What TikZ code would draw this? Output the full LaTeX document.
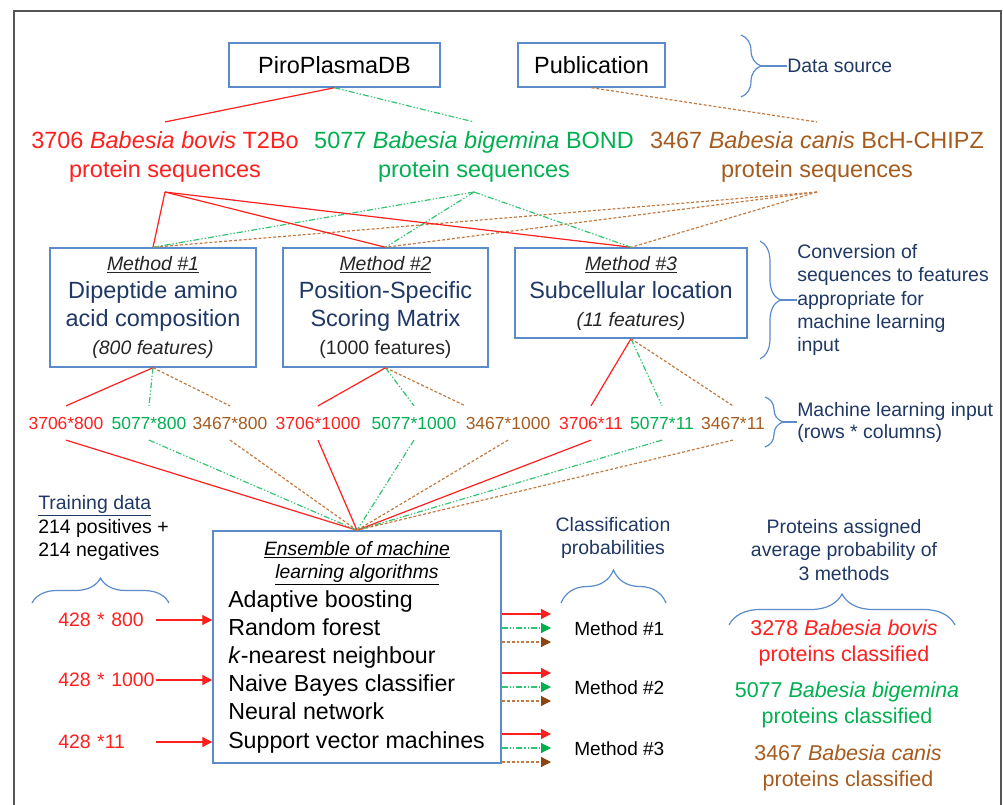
\documentclass[tikz,border=0pt]{standalone}
\usepackage{fontspec}
\setmainfont{Liberation Sans}
\usepackage{tikz}
\usetikzlibrary{arrows.meta,calc,decorations.pathreplacing}

\definecolor{boxblue}{HTML}{5B8BCB}
\definecolor{navy}{HTML}{1F3864}
\definecolor{bovisred}{HTML}{FF1F1F}
\definecolor{bigemgreen}{HTML}{00B050}
\definecolor{bigemline}{HTML}{33C472}
\definecolor{canisbrown}{HTML}{A65B1E}
\definecolor{canisline}{HTML}{C27A40}
\definecolor{headbrown}{HTML}{8B4513}
\definecolor{framegray}{HTML}{555555}

% font sizes (one picture unit is 0.75pt)
\newcommand{\mainsize}{\fontsize{17.6}{21}\selectfont}
\newcommand{\notesize}{\fontsize{14.6}{17.5}\selectfont}
\newcommand{\numsize}{\fontsize{13.1}{16}\selectfont}
\newcommand{\resultsize}{\fontsize{16.1}{19.5}\selectfont}
\newcommand{\methodlabel}[1]{{\notesize\color{black!85}\underline{\textit{#1}}}}

\begin{document}
\begin{tikzpicture}
  [x=0.75pt,y=-0.75pt,
   every node/.style={inner sep=0pt},
   box/.style={draw=boxblue,line width=1.1pt,fill=white},
   method/.style={box,font=\mainsize,text=navy,align=center},
   species/.style={font=\fontsize{17.6}{21.75}\selectfont,align=center,inner ysep=7pt},
   num/.style={font=\numsize,inner ysep=8pt},
   note/.style={font=\notesize,text=navy,align=left,anchor=west},
   result/.style={font=\resultsize,align=center},
   input/.style={font=\notesize,text=bovisred,anchor=west,text width=72.75pt,align=left},
   redline/.style={draw=bovisred,line width=0.9pt},
   greenline/.style={draw=bigemline,line width=0.9pt,
     dash pattern=on 4.5pt off 1.5pt on 1pt off 1.5pt on 1pt off 1.5pt},
   brownline/.style={draw=canisline,line width=0.9pt,dash pattern=on 2.2pt off 1.5pt},
   brace/.style={draw=boxblue,line width=0.9pt,decorate,decoration={brace,amplitude=#1}},
   bracetip/.style={draw=boxblue,line width=0.9pt}]

  \useasboundingbox (0,0) rectangle (1003,805);
  \draw[framegray,line width=1.5pt] (14,805) -- (14,11) -- (1001,11) -- (1001,805);

  % sources
  \node[box,minimum width=158pt,minimum height=33pt,font=\mainsize] (piro) at (334.5,65) {PiroPlasmaDB};
  \node[box,minimum width=110pt,minimum height=33pt,font=\mainsize] (pub) at (591.5,65) {Publication};

  \node[species,text=bovisred] (bovis) at (165,157) {3706 \textit{Babesia bovis} T2Bo\\protein sequences};
  \node[species,text=bigemgreen] (bigemina) at (474,157) {5077 \textit{Babesia bigemina} BOND\\protein sequences};
  \node[species,text=canisbrown] (canis) at (817,157) {3467 \textit{Babesia canis} BcH-CHIPZ\\protein sequences};

  % feature methods
  \node[method,minimum width=154.5pt,minimum height=89.25pt] (m1) at (153,307.5)
    {\methodlabel{Method \#1}\\Dipeptide amino\\acid composition\\{\notesize\color{black!85}\textit{(800 features)}}};
  \node[method,minimum width=153.75pt,minimum height=89.25pt] (m2) at (385.5,307.5)
    {\methodlabel{Method \#2}\\Position-Specific\\Scoring Matrix\\{\notesize\color{black!85}(1000 features)}};
  \node[method,minimum width=174pt,minimum height=67.5pt] (m3) at (631,293)
    {\methodlabel{Method \#3}\\Subcellular location\\{\notesize\color{black!85}\textit{(11 features)}}};

  % input sizes
  \foreach \name/\xpos/\txt/\col in {n1/66/3706*800/bovisred, n2/149/5077*800/bigemgreen,
      n3/230/3467*800/canisbrown, n4/318/3706*1000/bovisred, n5/414/5077*1000/bigemgreen,
      n6/508/3467*1000/canisbrown, n7/591/3706*11/bovisred, n8/662/5077*11/bigemgreen,
      n9/733/3467*11/canisbrown}
    \node[num,text=\col] (\name) at (\xpos,423) {\txt};

  % ensemble
  \node[box,minimum width=216pt,minimum height=174pt] (ens) at (357,647) {};
  \node[font=\fontsize{14.5}{17.25}\selectfont,align=center] (enstitle) at (357,563.5)
    {\underline{\textit{Ensemble of machine}}\\\underline{\textit{learning algorithms}}};
  \node[font=\fontsize{17.4}{21.15}\selectfont,align=left,anchor=west] (algos) at (228,671.5)
    {Adaptive boosting\\Random forest\\\textit{k}-nearest neighbour\\Naive Bayes classifier\\Neural network\\Support vector machines};

  \node[note,text=black,font=\fontsize{14.6}{17.6}\selectfont] (train) at (38,528)
    {\textcolor{navy}{\underline{Training data}}\\214 positives +\\214 negatives};
  \node[input] (in1) at (58,620) {428 * 800};
  \node[input] (in2) at (58,680) {428 * 1000};
  \node[input] (in3) at (58,742) {428 *11};

  \node[note,anchor=center,align=center] (classif) at (613,538) {Classification\\probabilities};
  \node[font=\fontsize{14.3}{17}\selectfont,anchor=west] (mo1) at (574,629) {Method \#1};
  \node[font=\fontsize{14.3}{17}\selectfont,anchor=west] (mo2) at (574,688) {Method \#2};
  \node[font=\fontsize{14.3}{17}\selectfont,anchor=west] (mo3) at (574,749) {Method \#3};

  \node[note,anchor=center,align=center] (assigned) at (844,550)
    {Proteins assigned\\average probability of\\3 methods};
  \node[result,text=bovisred] (bovres) at (844,643) {3278 \textit{Babesia bovis}\\proteins classified};
  \node[result,text=bigemgreen] (bigres) at (847,705) {5077 \textit{Babesia bigemina}\\proteins classified};
  \node[result,text=canisbrown] (canres) at (848,768) {3467 \textit{Babesia canis}\\proteins classified};

  % annotations
  \node[note] (dsrc) at (787,66) {Data source};
  \node[note] (conv) at (797,300) {Conversion of\\sequences to features\\appropriate for\\machine learning\\input};
  \node[note,font=\fontsize{14.6}{16.5}\selectfont] (mlin) at (797,422) {Machine learning input\\(rows * columns)};

  \draw[brace=15pt] (741,35) -- (741,97);
  \draw[bracetip] (761,66) -- (dsrc.west);
  \draw[brace=15pt] (760,241) -- (760,359);
  \draw[bracetip] (780,300) -- (conv.west);
  \draw[brace=13.5pt] (765,397) -- (765,447);
  \draw[bracetip] (783,422) -- (mlin.west);
  \draw[brace=18.75pt] (32,603) -- (169,603);
  \draw[brace=24.75pt] (561,603) -- (666,603);
  \draw[brace=23.25pt] (729,625) -- (955,625);

  % connectors
  \draw[redline] (piro.south) -- (bovis.north);
  \draw[greenline] (piro.south) -- (bigemina.north);
  \draw[brownline] (pub.south) -- (canis.north);

  \foreach \to in {m1,m2,m3} {
    \draw[redline] (bovis.south) -- (\to.north);
    \draw[greenline] (bigemina.south) -- (\to.north);
    \draw[brownline] (canis.south) -- (\to.north);
  }

  \foreach \from/\r/\g/\b in {m1/n1.north/n2.north/n3.north,
      m2/n4.north/n5.north/n6.north west, m3/n7.north/n8.north/n9.north} {
    \draw[redline] (\from.south) -- (\r);
    \draw[greenline] (\from.south) -- (\g);
    \draw[brownline] (\from.south) -- (\b);
  }

  \foreach \n in {n1,n4,n7} \draw[redline] (\n.south) -- (ens.north);
  \foreach \n in {n2,n5,n8} \draw[greenline] (\n.south) -- (ens.north);
  \foreach \n in {n3,n6,n9} \draw[brownline] (\n.south) -- (ens.north);

  \foreach \n in {in1,in2,in3}
    \draw[redline,-{Triangle[length=7.5pt,width=7.5pt]}] (\n.east) -- (\n.east -| ens.west);

  \foreach \k in {1,2,3} {
    \draw[redline,-{Triangle[length=7.5pt,width=7.5pt]}]
      ($(ens.east |- mo\k.west)+(0,-15)$) -- ($(mo\k.west)+(-23,-15)$);
    \draw[greenline,-{Triangle[length=7.5pt,width=7.5pt,fill=bigemgreen,color=bigemgreen]}]
      ($(ens.east |- mo\k.west)+(0,-1)$) -- ($(mo\k.west)+(-23,-1)$);
    \draw[brownline,-{Triangle[length=7.5pt,width=7.5pt,fill=headbrown,color=headbrown]}]
      ($(ens.east |- mo\k.west)+(0,13)$) -- ($(mo\k.west)+(-23,13)$);
  }
\end{tikzpicture}
\end{document}
